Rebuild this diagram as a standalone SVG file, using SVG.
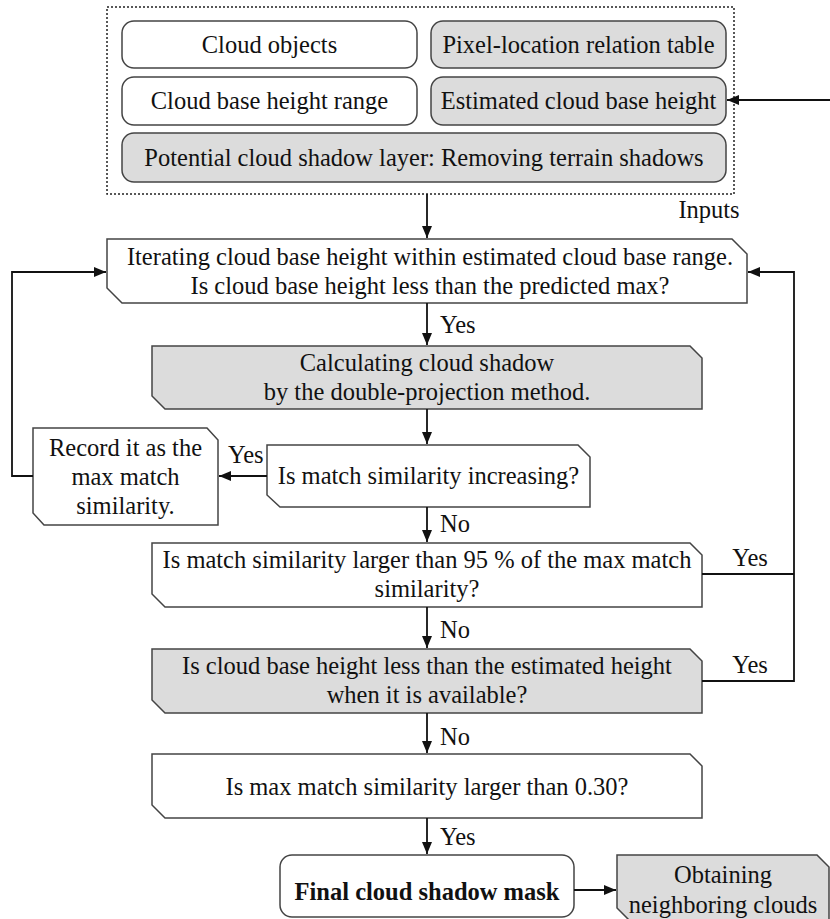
<svg xmlns="http://www.w3.org/2000/svg" width="830" height="919" viewBox="0 0 830 919">
<defs>
<style>
text{font-family:"Liberation Serif","Times New Roman",serif;font-size:24.5px;fill:#111;text-anchor:middle}
.lbl{text-anchor:start}
.b{font-weight:bold}
.box{stroke:#444;stroke-width:1.5;fill:#fff}
.g{fill:#dcdcdc}
.dot{fill:none;stroke:#222;stroke-width:1.5;stroke-dasharray:2 2}
.ln{fill:none;stroke:#111;stroke-width:1.8}
</style>
<marker id="ah" viewBox="0 0 12 10" refX="12" refY="5" markerWidth="12" markerHeight="10" markerUnits="userSpaceOnUse" orient="auto">
<path d="M0,0 L12,5 L0,10 z" fill="#111"/>
</marker>
</defs>
<rect width="830" height="919" fill="#fff"/>

<g id="inputs">
<rect class="dot" x="107" y="7" width="627" height="187"/>
<text x="709" y="218">Inputs</text>
</g>
<g id="cloud-objects">
<rect class="box" x="122" y="21" width="295" height="47" rx="12"/>
<text x="269.5" y="53">Cloud objects</text>
</g>
<g id="pixel-location">
<rect class="box g" x="431" y="21" width="295" height="47" rx="12"/>
<text x="578.5" y="53">Pixel-location relation table</text>
</g>
<g id="cloud-base-range">
<rect class="box" x="122" y="77" width="295" height="48" rx="12"/>
<text x="269.5" y="109">Cloud base height range</text>
</g>
<g id="estimated-height">
<rect class="box g" x="431" y="77" width="295" height="48" rx="12"/>
<text x="578.5" y="109">Estimated cloud base height</text>
</g>
<g id="potential-shadow">
<rect class="box g" x="122" y="133" width="604" height="49" rx="12"/>
<text x="424" y="166">Potential cloud shadow layer: Removing terrain shadows</text>
</g>

<g id="iterating">
<path class="box" d="M107,239 H732 L747,254 V303 H122 L107,288 Z"/>
<text x="430" y="265">Iterating cloud base height within estimated cloud base range.</text>
<text x="430" y="294">Is cloud base height less than the predicted max?</text>
</g>
<g id="calculating">
<path class="box g" d="M152,346 H690 L702,358 V409 H165 L152,396 Z"/>
<text x="427" y="371">Calculating cloud shadow</text>
<text x="427" y="400">by the double-projection method.</text>
</g>
<g id="record">
<path class="box" d="M33,428 H207 L218,440 V525 H44 L33,513 Z"/>
<text x="125.5" y="456">Record it as the</text>
<text x="125.5" y="485">max match</text>
<text x="125.5" y="514">similarity.</text>
</g>
<g id="increasing">
<path class="box" d="M267,445 H578 L590,457 V507 H280 L267,495 Z"/>
<text x="428.5" y="484">Is match similarity increasing?</text>
</g>
<g id="similarity95">
<path class="box" d="M152,543 H690 L702,555 V607 H165 L152,594 Z"/>
<text x="427" y="568">Is match similarity larger than 95 % of the max match</text>
<text x="427" y="597">similarity?</text>
</g>
<g id="estimated-check">
<path class="box g" d="M152,649 H690 L702,661 V713 H165 L152,700 Z"/>
<text x="427" y="674">Is cloud base height less than the estimated height</text>
<text x="427" y="703">when it is available?</text>
</g>
<g id="max-check">
<path class="box" d="M152,754 H690 L702,766 V818 H165 L152,805 Z"/>
<text x="427" y="795">Is max match similarity larger than 0.30?</text>
</g>
<g id="final-mask">
<rect class="box" x="280" y="855" width="294" height="62" rx="12"/>
<text class="b" x="427" y="900">Final cloud shadow mask</text>
</g>
<g id="neighboring">
<path class="box g" d="M617,855 H817 L829,867 V920 H629 L617,908 Z"/>
<text x="723" y="883">Obtaining</text>
<text x="723" y="913">neighboring clouds</text>
</g>

<g id="connectors">
<line class="ln" x1="427" y1="194" x2="427" y2="238" marker-end="url(#ah)"/>
<line class="ln" x1="830" y1="100" x2="727" y2="100" marker-end="url(#ah)"/>
<line class="ln" x1="427" y1="303" x2="427" y2="345" marker-end="url(#ah)"/>
<line class="ln" x1="427" y1="409" x2="427" y2="444" marker-end="url(#ah)"/>
<line class="ln" x1="267" y1="476" x2="219" y2="476" marker-end="url(#ah)"/>
<polyline class="ln" points="33,476 12,476 12,272 106,272" marker-end="url(#ah)"/>
<line class="ln" x1="427" y1="507" x2="427" y2="542" marker-end="url(#ah)"/>
<line class="ln" x1="427" y1="607" x2="427" y2="648" marker-end="url(#ah)"/>
<polyline class="ln" points="702,574 794,574"/>
<polyline class="ln" points="702,681 794,681 794,272 748,272" marker-end="url(#ah)"/>
<line class="ln" x1="427" y1="713" x2="427" y2="753" marker-end="url(#ah)"/>
<line class="ln" x1="427" y1="818" x2="427" y2="854" marker-end="url(#ah)"/>
<line class="ln" x1="574" y1="890" x2="616" y2="890" marker-end="url(#ah)"/>
<text class="lbl" x="440" y="333">Yes</text>
<text class="lbl" x="228" y="463">Yes</text>
<text class="lbl" x="440" y="532">No</text>
<text class="lbl" x="440" y="638">No</text>
<text class="lbl" x="440" y="745">No</text>
<text class="lbl" x="440" y="845">Yes</text>
<text x="750" y="566">Yes</text>
<text x="750" y="673">Yes</text>
</g>
</svg>
